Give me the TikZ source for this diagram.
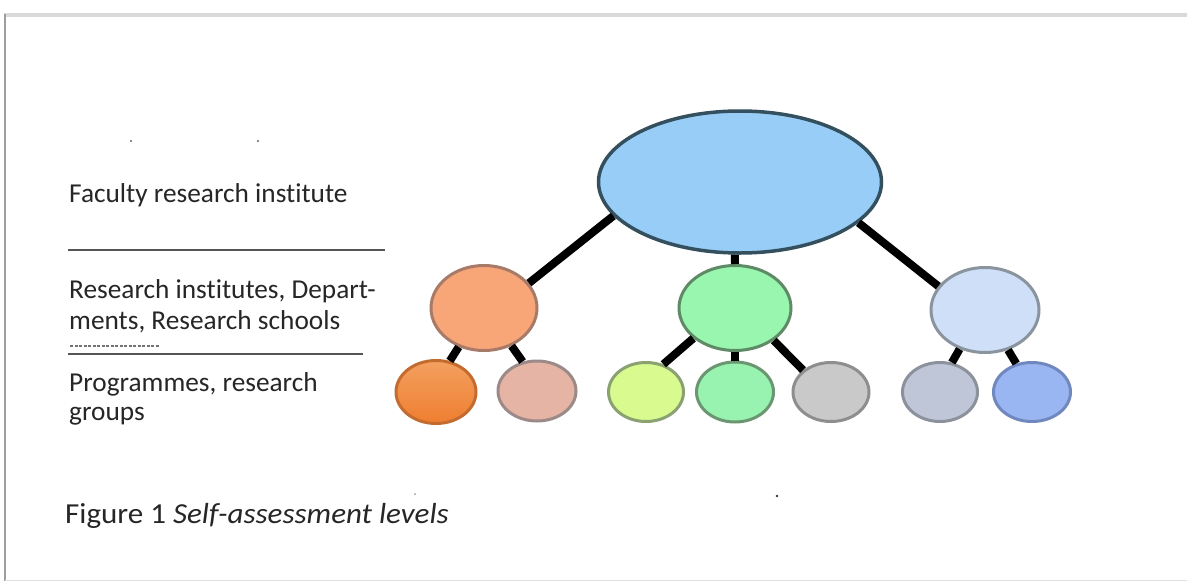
\documentclass[tikz,border=0pt]{standalone}
\usepackage{fontspec}
\setmainfont{Carlito}[Ligatures=NoCommon]
\usetikzlibrary{shapes.geometric}
\definecolor{txt}{HTML}{262626}
\definecolor{rule}{HTML}{555555}
\definecolor{topF}{HTML}{98CDF7}\definecolor{topD}{HTML}{34505E}
\definecolor{orF}{HTML}{F8A678}\definecolor{orD}{HTML}{A87A68}
\definecolor{grF}{HTML}{98F6AE}\definecolor{grD}{HTML}{5E8A66}
\definecolor{lbF}{HTML}{CFDFF7}\definecolor{lbD}{HTML}{8A949E}
\definecolor{doT}{HTML}{F4A060}\definecolor{doB}{HTML}{EE7E30}\definecolor{doD}{HTML}{C46C30}
\definecolor{pkF}{HTML}{E6B4A4}\definecolor{pkD}{HTML}{9C8A88}
\definecolor{ygF}{HTML}{D9FA8F}\definecolor{ygD}{HTML}{8AA272}
\definecolor{gsF}{HTML}{98F2B0}\definecolor{gsD}{HTML}{6A9672}
\definecolor{gyF}{HTML}{C9C9C9}\definecolor{gyD}{HTML}{8E8E8E}
\definecolor{bgF}{HTML}{BEC6D8}\definecolor{bgD}{HTML}{8C929C}
\definecolor{blF}{HTML}{9AB6F2}\definecolor{blD}{HTML}{7088BE}
\tikzset{
  bub/.style={ellipse, inner sep=0pt, line width=3pt},
  link/.style={line width=8pt, black},
  lab/.style={anchor=base west, inner sep=0pt, text=txt, font=\fontsize{27.3}{32}\selectfont},
  hrule/.style={rule, line width=2.6pt},
  speck/.style={fill=black!60}
}
\begin{document}
\begin{tikzpicture}[x=1pt,y=-1pt]
\useasboundingbox (0,0) rectangle (1187,581);
\fill[white] (0,0) rectangle (1187,581);
% frame
\draw[line width=4pt, black!15] (4,15) -- (1187,15);
\draw[line width=1.6pt, black!38] (5,14) -- (5,581);
\draw[line width=1pt, black!12] (5,580) -- (1187,580);
% specks
\fill[speck] (131,141) circle (1.2);
\fill[speck] (258,141) circle (1.2);
\fill[black!40] (415,494) circle (1);
\fill[black!80] (777,496) circle (1.3);
% labels
\node[lab] (l1) at (69,202) {Faculty research institute};
\draw[hrule] (68,250) -- (385,250);
\node[lab] (l2a) at (69,298) {Research institutes, Depart-};
\node[lab] (l2b) at (69,329) {ments, Research schools};
\draw[black!55, line width=1.3pt, dash pattern=on 3pt off 1.5pt] (70,346) -- (160,346);
\draw[hrule] (68,354) -- (363,354);
\node[lab] (l3a) at (69,391) {Programmes, research};
\node[lab] (l3b) at (69,420) {groups};
% caption
\node[lab] (cap) at (65,523) {\scalebox{1.07}[1]{\fontsize{29}{34}\selectfont Figure 1 \textit{Self-assessment levels}}};
% level 1
\node[bub, draw=topD, fill=topF, line width=3.5pt, minimum width=283pt, minimum height=142pt] (top) at (740,182) {};
% level 2
\node[bub, draw=orD, fill=orF, minimum width=106pt, minimum height=85pt] (org) at (484,308) {};
\node[bub, draw=grD, fill=grF, minimum width=112pt, minimum height=85pt] (grn) at (735,308) {};
\node[bub, draw=lbD, fill=lbF, minimum width=108pt, minimum height=85pt] (lbl) at (985,310) {};
% level 3
\node[bub, draw=doD, top color=doT, bottom color=doB, minimum width=80pt, minimum height=63pt] (dor) at (436,392) {};
\node[bub, draw=pkD, fill=pkF, minimum width=78pt, minimum height=60pt] (pnk) at (537,391) {};
\node[bub, draw=ygD, fill=ygF, minimum width=75pt, minimum height=59pt] (ygr) at (646,392) {};
\node[bub, draw=gsD, fill=gsF, minimum width=77pt, minimum height=60pt] (gsm) at (735,392) {};
\node[bub, draw=gyD, fill=gyF, minimum width=76pt, minimum height=59pt] (gry) at (831,392) {};
\node[bub, draw=bgD, fill=bgF, minimum width=75pt, minimum height=59pt] (bgy) at (940,392) {};
\node[bub, draw=blD, fill=blF, minimum width=77pt, minimum height=59pt] (blu) at (1032,392) {};
% connectors
\draw[link] (top.195) -- (org.29);
\draw[link] (top.266) -- (grn.north);
\draw[link] (top.341) -- (lbl.153);
\draw[link] (org.237) -- (dor.66);
\draw[link] (org.306) -- (pnk.116);
\draw[link] (grn.216) -- (ygr.58);
\draw[link] (grn.south) -- (gsm.north);
\draw[link] (grn.320) -- (gry.142);
\draw[link] (lbl.237) -- (bgy.68);
\draw[link] (lbl.300) -- (blu.119);
\end{tikzpicture}
\end{document}
